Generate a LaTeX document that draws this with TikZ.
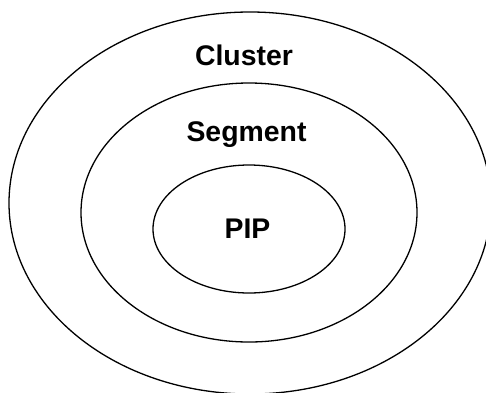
\documentclass[tikz,border=0pt]{standalone}
\usepackage{fontspec}
\setmainfont{Liberation Sans}
\usetikzlibrary{shapes.geometric}
\begin{document}
\begin{tikzpicture}[x=1pt,y=-1pt,
  ring/.style={ellipse,draw=black,line width=1.3pt,inner sep=0pt},
  lbl/.style={anchor=base,inner sep=0pt,font=\fontsize{28.4pt}{30pt}\selectfont\bfseries}]
  \useasboundingbox (0,0) rectangle (486,392);
  \clip (0,0) rectangle (486,392);
  % nested levels
  \node[ring,minimum width=482pt,minimum height=382pt] (cluster) at (250,203) {};
  \node[ring,minimum width=336pt,minimum height=259pt] (segment) at (249,212.5) {};
  \node[ring,minimum width=192pt,minimum height=128pt] (pip) at (249,229) {};
  % level names
  \node[lbl] (tc) at (244,65) {Cluster};
  \node[lbl] (ts) at (246.5,141) {Segment};
  \node[lbl] (tp) at (247.5,238) {PIP};
\end{tikzpicture}
\end{document}
